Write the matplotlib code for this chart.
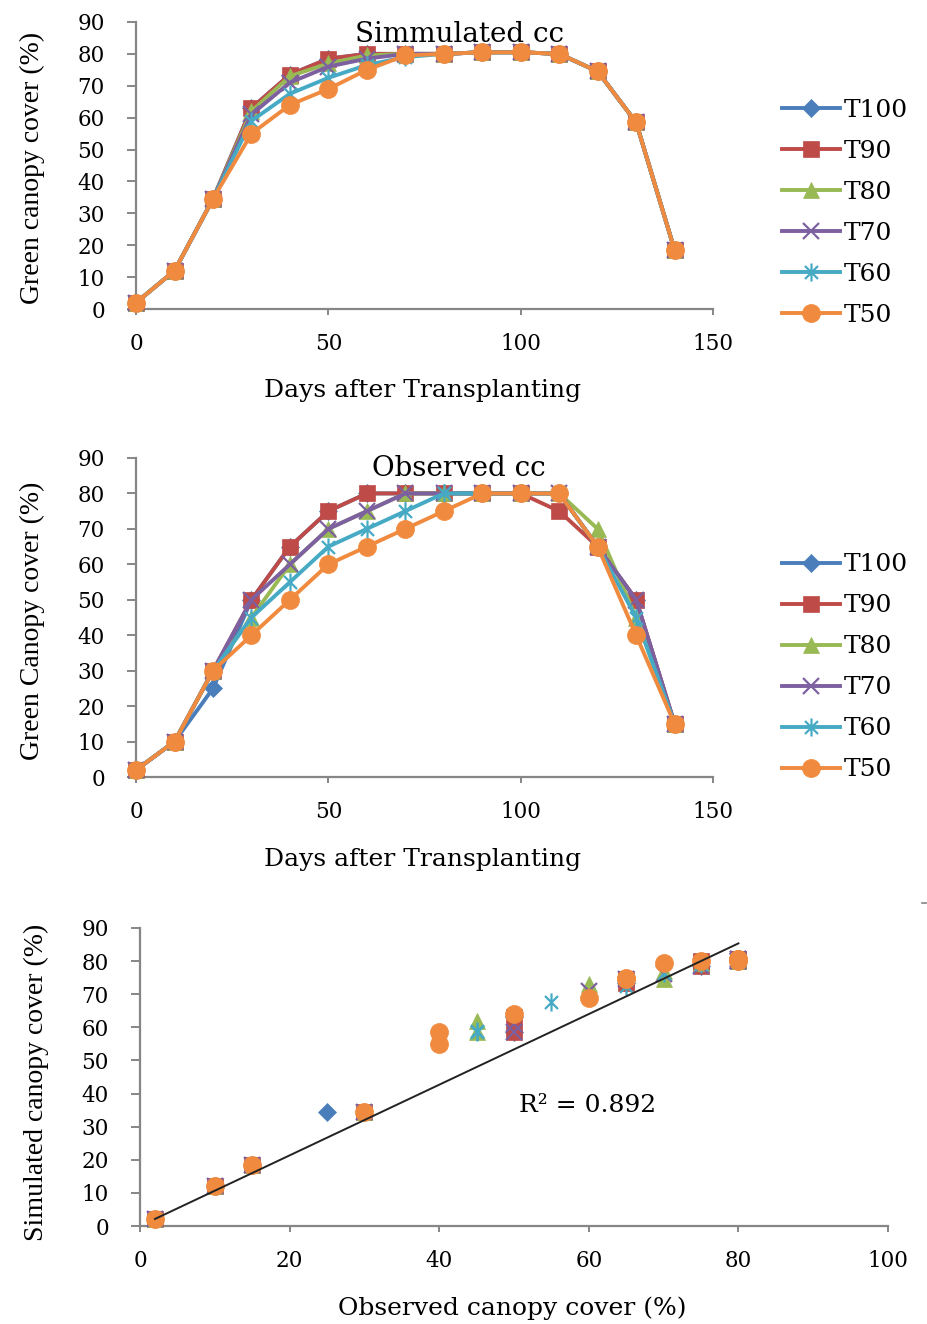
import numpy as np
import matplotlib
matplotlib.use("Agg")
import matplotlib.pyplot as plt
from matplotlib.path import Path

# ---- data -----------------------------------------------------------------
days = [0, 10, 20, 30, 40, 50, 60, 70, 80, 90, 100, 110, 120, 130, 140]
treatments = ["T100", "T90", "T80", "T70", "T60", "T50"]

sim_T100 = [2, 12, 34.5, 63, 73.5, 78.5, 80, 80, 80, 80.5, 80.5, 80, 74.5, 58.5, 18.5]
sim_T90 = [2, 12, 34.5, 63, 73.5, 78.5, 80, 80, 80, 80.5, 80.5, 80, 74.5, 58.5, 18.5]
sim_T80 = [2, 12, 34.5, 62, 73, 77, 79.5, 80, 80, 80.5, 80.5, 80, 74.5, 58.5, 18.5]
sim_T70 = [2, 12, 34.5, 61, 71, 76, 78.5, 80, 80, 80.5, 80.5, 80, 74.5, 58.5, 18.5]
sim_T60 = [2, 12, 34.5, 59, 67.5, 72.5, 76.5, 79, 80, 80.5, 80.5, 80, 74.5, 58.5, 18.5]
sim_T50 = [2, 12, 34.5, 55, 64, 69, 75, 79.5, 80, 80.5, 80.5, 80, 74.5, 58.5, 18.5]

obs_T100 = [2, 10, 25, 50, 65, 75, 80, 80, 80, 80, 80, 80, 65, 50, 15]
obs_T90 = [2, 10, 30, 50, 65, 75, 80, 80, 80, 80, 80, 75, 65, 50, 15]
obs_T80 = [2, 10, 30, 45, 60, 70, 75, 80, 80, 80, 80, 80, 70, 45, 15]
obs_T70 = [2, 10, 30, 50, 60, 70, 75, 80, 80, 80, 80, 80, 65, 50, 15]
obs_T60 = [2, 10, 30, 45, 55, 65, 70, 75, 80, 80, 80, 80, 65, 45, 15]
obs_T50 = [2, 10, 30, 40, 50, 60, 65, 70, 75, 80, 80, 80, 65, 40, 15]

simulated = [sim_T100, sim_T90, sim_T80, sim_T70, sim_T60, sim_T50]
observed = [obs_T100, obs_T90, obs_T80, obs_T70, obs_T60, obs_T50]

r2_label = "R² = 0.892"

# ---- styling --------------------------------------------------------------
colors = ["#4A7EBB", "#BE4B48", "#98B954", "#7D60A0", "#46AAC5", "#F08A3E"]

star = Path([(0, -1), (0, 1), (-0.72, -0.72), (0.72, 0.72), (-0.72, 0.72), (0.72, -0.72)],
            [Path.MOVETO, Path.LINETO, Path.MOVETO, Path.LINETO, Path.MOVETO, Path.LINETO])
markers = ["D", "s", "^", "x", star, "o"]
msizes = [9, 12, 12, 12, 13, 13]

SERIF = ["DejaVu Serif"]
NARROW = ["Liberation Serif"]
GREY = "#868686"

fig = plt.figure(figsize=(9.28, 13.24), dpi=100)
fig.patch.set_facecolor("white")


def style_axes(ax, xlim, ylim, xticks, yticks, xpad, ypad):
    ax.set_xlim(*xlim)
    ax.set_ylim(*ylim)
    ax.set_xticks(xticks)
    ax.set_yticks(yticks)
    for side in ("top", "right"):
        ax.spines[side].set_visible(False)
    for side in ("left", "bottom"):
        ax.spines[side].set_color(GREY)
        ax.spines[side].set_linewidth(1.6)
    ax.tick_params(axis="x", direction="out", length=4.5, width=1.4, color=GREY,
                   labelsize=15.5, pad=xpad)
    ax.tick_params(axis="y", direction="out", length=6.5, width=1.4, color=GREY,
                   labelsize=15.5, pad=ypad)
    for lab in ax.get_xticklabels() + ax.get_yticklabels():
        lab.set_family(SERIF)


def mstyle(i):
    kw = dict(marker=markers[i], markersize=msizes[i], color=colors[i],
              markerfacecolor=colors[i], markeredgecolor=colors[i])
    kw["markeredgewidth"] = 1.6 if i in (3, 4) else 0.5
    return kw


def line_panel(rect, series, title, ylabel, title_y, xlabel_y, legend_y):
    ax = fig.add_axes(rect)
    for i, (name, vals) in enumerate(zip(treatments, series)):
        ax.plot(days, vals, linewidth=2.8, label=name, clip_on=False, zorder=3 + i,
                **mstyle(i))
    style_axes(ax, (0, 150), (0, 90), [0, 50, 100, 150], range(0, 91, 10), 13, 16)
    ax.text(0.56, title_y, title, transform=ax.transAxes, ha="center", va="center",
            family=SERIF, fontsize=20, zorder=20)
    ax.set_xlabel("Days after Transplanting", family=SERIF, fontsize=18)
    ax.xaxis.set_label_coords(0.497, xlabel_y)
    ax.set_ylabel(ylabel, family=NARROW, fontsize=20)
    ax.yaxis.set_label_coords(-0.158, 0.49)
    ax.legend(loc="center left", bbox_to_anchor=(0.832, legend_y),
              bbox_transform=fig.transFigure, frameon=False,
              prop={"family": SERIF, "size": 18}, handlelength=2.3,
              handletextpad=0.15, labelspacing=0.72, borderaxespad=0)
    return ax


line_panel([0.1466, 0.7666, 0.6218, 0.2168], simulated, "Simmulated cc",
           "Green canopy cover (%)", 0.958, -0.245, 0.839)
line_panel([0.1466, 0.4131, 0.6218, 0.2410], observed, "Observed cc",
           "Green Canopy cover (%)", 0.968, -0.222, 0.496)

# ---- observed vs simulated scatter ----------------------------------------
ax3 = fig.add_axes([0.1509, 0.0740, 0.8060, 0.2251])
for i, (obs, sim) in enumerate(zip(observed, simulated)):
    ax3.plot(obs, sim, linestyle="none", clip_on=False, zorder=3 + i, **mstyle(i))

x_all = np.concatenate([np.asarray(o, float) for o in observed])
y_all = np.concatenate([np.asarray(s, float) for s in simulated])
slope = np.sum(x_all * y_all) / np.sum(x_all * x_all)
xfit = np.array([x_all.min(), x_all.max()])
ax3.plot(xfit, slope * xfit, color="#222222", linewidth=1.4, zorder=12)

style_axes(ax3, (0, 100), (0, 90), range(0, 101, 20), range(0, 91, 10), 13, 16)
ax3.text(59.8, 36.5, r2_label, ha="center", va="center", family=SERIF, fontsize=18)
ax3.set_xlabel("Observed canopy cover (%)", family=SERIF, fontsize=18)
ax3.xaxis.set_label_coords(0.497, -0.235)
ax3.set_ylabel("Simulated canopy cover (%)", family=NARROW, fontsize=20)
ax3.yaxis.set_label_coords(-0.122, 0.483)

# small stray tick at the upper-right corner of the scatter frame
fig.add_artist(plt.Line2D([922 / 928, 928 / 928], [1 - 903 / 1324] * 2,
                          color=GREY, linewidth=1.2))

fig.savefig("out.png", dpi=100, facecolor="white")
